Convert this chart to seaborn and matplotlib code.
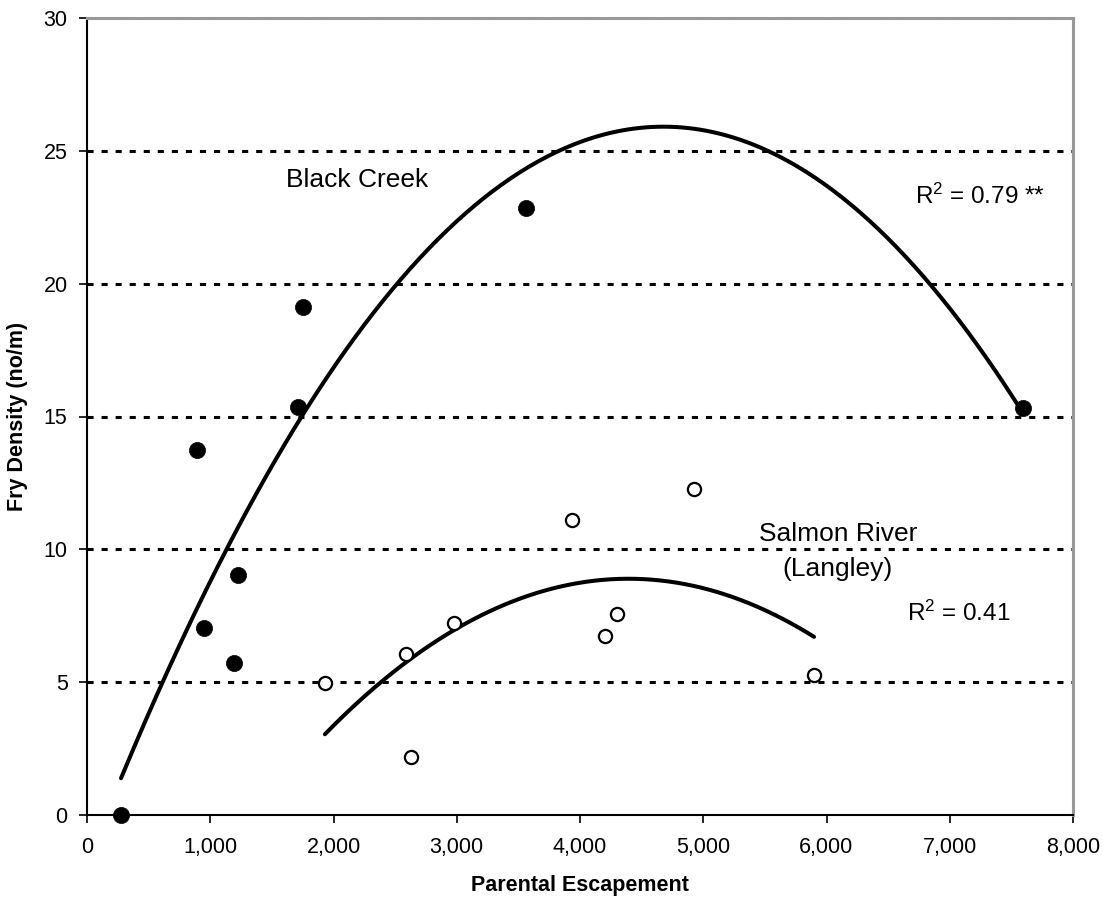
import numpy as np
import pandas as pd
import matplotlib
matplotlib.use("Agg")
import matplotlib.pyplot as plt
import seaborn as sns

# ---- data ----
bc_escapement = [276, 892, 952, 1190, 1227, 1714, 1752, 3560, 7594]
bc_density = [0.0, 13.74, 7.03, 5.71, 9.03, 15.37, 19.13, 22.86, 15.31]
sr_escapement = [1930, 2587, 2628, 2979, 3936, 4201, 4301, 4925, 5899]
sr_density = [4.98, 6.05, 2.19, 7.24, 11.10, 6.74, 7.56, 12.26, 5.27]
x_ticks = [0, 1000, 2000, 3000, 4000, 5000, 6000, 7000, 8000]
y_ticks = [0, 5, 10, 15, 20, 25, 30]
bc_label = "Black Creek"
sr_label_1 = "Salmon River"
sr_label_2 = "(Langley)"
bc_r2 = "R$^2$ = 0.79 **"
sr_r2 = "R$^2$ = 0.41"

sns.set_style("white")
plt.rcParams["font.family"] = ["Liberation Sans", "DejaVu Sans"]
plt.rcParams["mathtext.fontset"] = "custom"
plt.rcParams["mathtext.rm"] = "Liberation Sans"
plt.rcParams["mathtext.it"] = "Liberation Sans"
plt.rcParams["text.color"] = "black"
plt.rcParams["axes.labelcolor"] = "black"

fig = plt.figure(figsize=(11.03, 8.98), dpi=100)
ax = fig.add_axes([87 / 1103, 1 - 815 / 898, (1073 - 87) / 1103, (815 - 18) / 898])

# gridlines
for yv in y_ticks[1:]:
    col = "#777777" if yv == 30 else "black"
    ax.axhline(yv, color=col, lw=2.2, dashes=(2, 2.6), dash_capstyle="butt", zorder=1)

bc = pd.DataFrame({"x": bc_escapement, "y": bc_density})
sr = pd.DataFrame({"x": sr_escapement, "y": sr_density})

# polynomial (order 2) trendlines fitted to each series
def trend(df):
    c = np.polyfit(df["x"], df["y"], 2)
    xs = np.linspace(df["x"].min(), df["x"].max(), 300)
    return pd.DataFrame({"x": xs, "y": np.polyval(c, xs)})

sns.lineplot(data=trend(bc), x="x", y="y", ax=ax, color="black", lw=2.9, zorder=3)
sns.lineplot(data=trend(sr), x="x", y="y", ax=ax, color="black", lw=2.9, zorder=3)

sns.scatterplot(data=bc, x="x", y="y", ax=ax, color="black", s=135, edgecolor="black",
                linewidth=0.5, zorder=4, clip_on=False)
sns.scatterplot(data=sr, x="x", y="y", ax=ax, facecolor="white", s=90, edgecolor="black",
                linewidth=1.6, zorder=4, clip_on=False)

ax.set_xlim(0, 8000)
ax.set_ylim(0, 30)
ax.set_xticks(x_ticks)
ax.set_xticklabels([f"{v:,}" for v in x_ticks])
ax.set_yticks(y_ticks)
ax.tick_params(axis="both", direction="out", length=6, width=1.2, colors="black",
               labelcolor="black", labelsize=15.5, bottom=True, left=True)
ax.tick_params(axis="x", pad=10)
ax.tick_params(axis="y", pad=8)

for s in ["left", "bottom"]:
    ax.spines[s].set_color("black")
    ax.spines[s].set_linewidth(1.5)
for s in ["top", "right"]:
    ax.spines[s].set_color("#999999")
    ax.spines[s].set_linewidth(2.2)

ax.set_xlabel("Parental Escapement", fontsize=15.5, fontweight="bold", labelpad=12)
ax.set_ylabel("Fry Density (no/m)", fontsize=15.5, fontweight="bold", labelpad=11)

ax.text(2191, 23.9, bc_label, fontsize=19, ha="center", va="center")
ax.text(6718, 23.3, bc_r2, fontsize=17.5, ha="left", va="center")
ax.text(6093, 10.58, sr_label_1, fontsize=19, ha="center", va="center")
ax.text(6093, 9.26, sr_label_2, fontsize=19, ha="center", va="center")
ax.text(6651, 7.6, sr_r2, fontsize=17.5, ha="left", va="center")

fig.savefig("out.png", dpi=100)
